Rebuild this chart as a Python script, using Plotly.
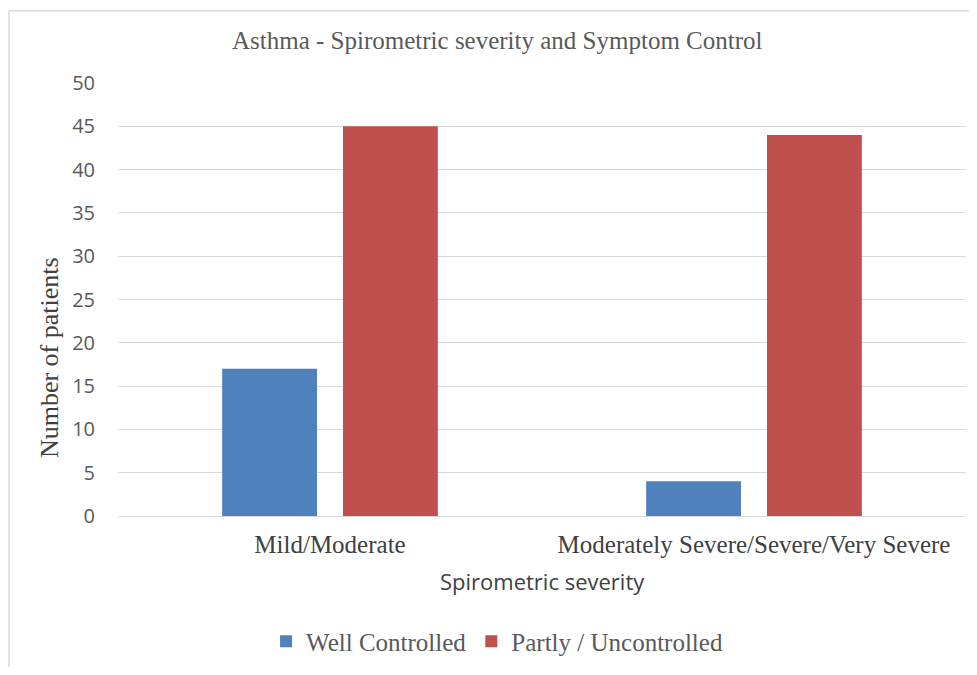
import plotly.graph_objects as go

categories = ["Mild/Moderate", "Moderately Severe/Severe/Very Severe"]
well_controlled = [17, 4]
partly_uncontrolled = [45, 44]
y_ticks = [0, 5, 10, 15, 20, 25, 30, 35, 40, 45, 50]

serif = "Liberation Serif, Times New Roman, serif"
sans = "Open Sans, Liberation Sans, sans-serif"

fig = go.Figure()
fig.add_trace(go.Bar(x=categories, y=well_controlled, name="Well Controlled",
                     marker=dict(color="#4f81bd", line=dict(width=0))))
fig.add_trace(go.Bar(x=categories, y=partly_uncontrolled, name="Partly / Uncontrolled",
                     marker=dict(color="#c0504d", line=dict(width=0))))

# page body keeps an 8px margin, so the figure is 16px smaller than the window
fig.update_layout(
    width=961, height=659,
    margin=dict(l=110, r=3, t=75, b=146),
    paper_bgcolor="white", plot_bgcolor="white",
    barmode="group", bargap=0.43, bargroupgap=0.215,
    showlegend=True,
    legend=dict(orientation="h", x=0.447, xanchor="center", y=-0.29, yanchor="middle",
                font=dict(family=serif, size=25, color="#595959"),
                itemwidth=30, tracegroupgap=0),
    xaxis=dict(showgrid=False, showline=True, linecolor="#d9d9d9", ticks="",
               tickfont=dict(family=serif, size=25, color="#404040"),
               ticklabelstandoff=6),
    yaxis=dict(range=[0, 50], tickvals=y_ticks, showgrid=True, gridcolor="#d9d9d9",
               zeroline=False, ticks="", showline=False,
               tickfont=dict(family=sans, size=20, color="#595959"),
               ticklabelstandoff=22),
    annotations=[
        dict(text="Asthma - Spirometric severity and Symptom Control", xref="paper", yref="paper",
             x=0.447, y=1.098, xanchor="center", yanchor="middle", showarrow=False,
             font=dict(family=serif, size=25, color="#595959")),
        dict(text="Number of patients", xref="paper", yref="paper",
             x=-0.08, y=0.365, xanchor="center", yanchor="middle", textangle=-90, showarrow=False,
             font=dict(family=serif, size=26, color="#404040")),
        dict(text="Spirometric severity", xref="paper", yref="paper",
             x=0.5, y=-0.151, xanchor="center", yanchor="middle", showarrow=False,
             font=dict(family=sans, size=22, color="#404040")),
    ],
    shapes=[
        dict(type="line", xref="paper", yref="paper", x0=-0.1285, x1=1.02, y0=1.1667, y1=1.1667,
             line=dict(color="#d9d9d9", width=1.5)),
        dict(type="line", xref="paper", yref="paper", x0=-0.1285, x1=-0.1285, y0=1.1667, y1=-0.35,
             line=dict(color="#d9d9d9", width=1.5)),
    ],
)

fig.write_html("out.html")
